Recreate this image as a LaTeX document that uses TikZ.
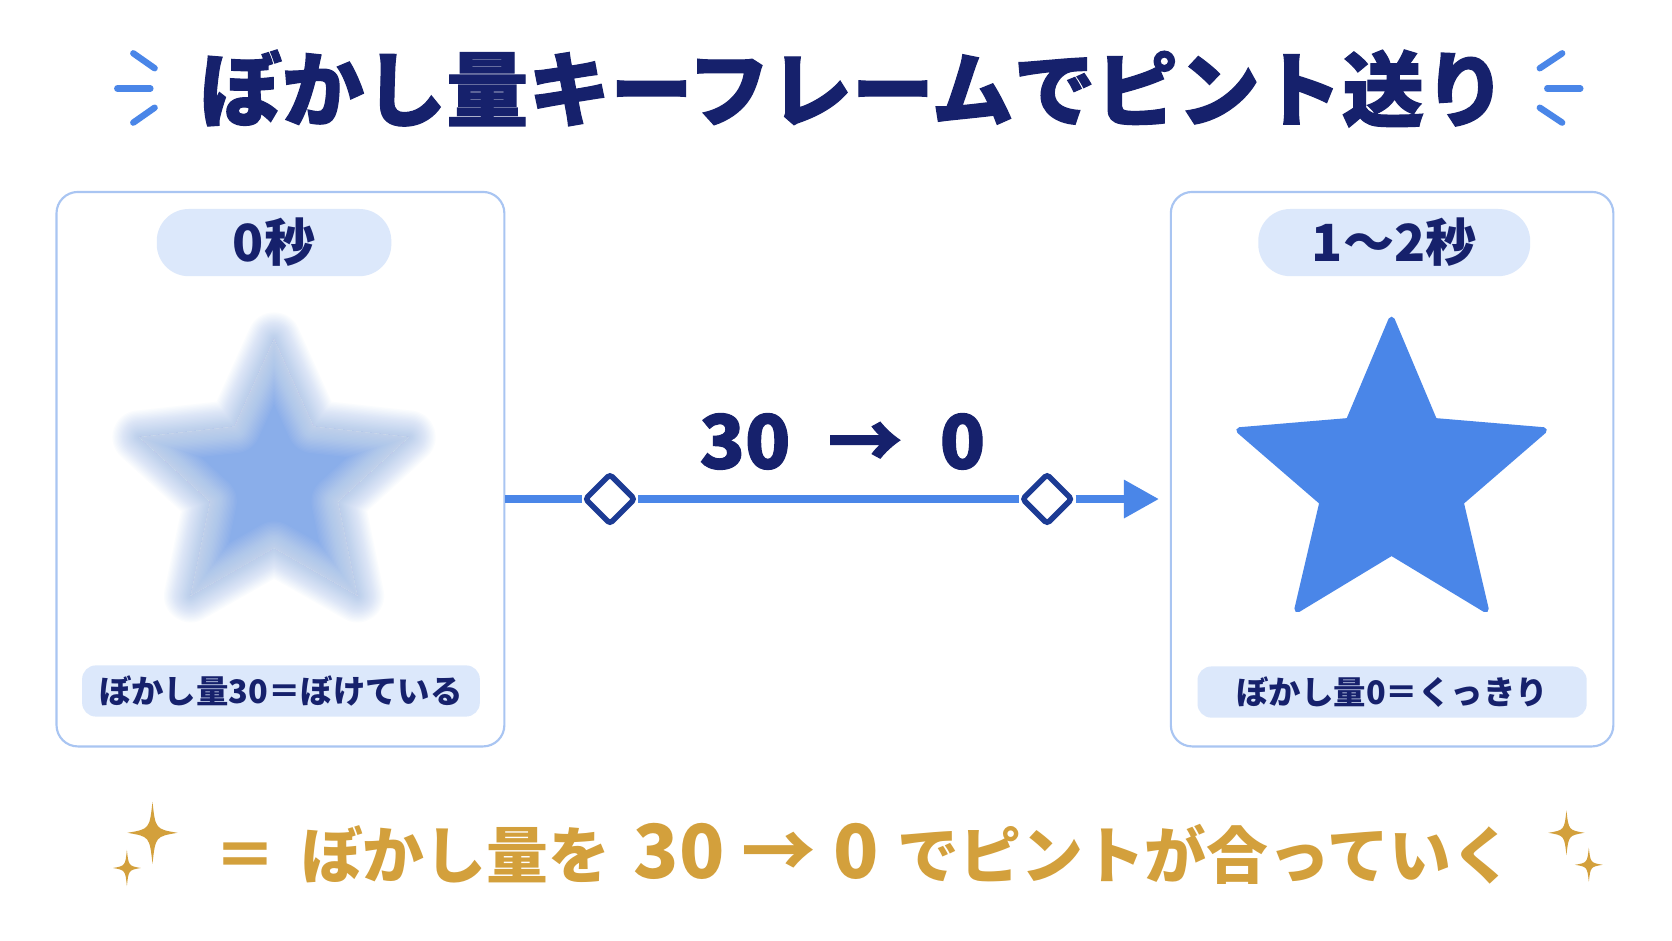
\documentclass[tikz,border=0pt]{standalone}
\usepackage{fontspec}
\setmainfont{Noto Sans CJK JP}
\newfontfamily\heavyfont{Noto Sans CJK JP}[BoldFeatures={FakeBold=1.5}]
\usepackage{tikz}
\usetikzlibrary{arrows.meta, shapes.geometric, positioning}

\definecolor{navy}{HTML}{16216C}
\definecolor{skyblue}{HTML}{4A86E8}
\definecolor{paleblue}{HTML}{8AAEEA}
\definecolor{frameblue}{HTML}{A9C5F2}
\definecolor{pillblue}{HTML}{DCE8FB}
\definecolor{keyblue}{HTML}{1C3B94}
\definecolor{gold}{HTML}{D3A03C}

\begin{document}
\begin{tikzpicture}[x=0.5pt, y=-0.5pt,
    panel/.style={draw=frameblue, line width=1pt, fill=white, rounded corners=10pt, minimum height=260pt, inner sep=0pt},
    timepill/.style={fill=pillblue, rounded corners=15pt, minimum height=31.5pt, text=navy, font=\bfseries\fontsize{24}{26}\selectfont, inner sep=0pt},
    notepill/.style={fill=pillblue, rounded corners=6.5pt, minimum height=24pt, text=navy, font=\bfseries\fontsize{15.2}{17}\selectfont, inner sep=0pt},
    keyframe/.style={diamond, draw=keyblue, line width=2.6pt, fill=white, minimum size=24pt, inner sep=0pt, rounded corners=1.5pt},
    flow/.style={skyblue, line width=4pt},
    burst/.style={skyblue, line width=3pt, line cap=round}]
    \useasboundingbox (0,0) rectangle (1568,882);
    \fill[white] (0,0) rectangle (1568,882);

    % Title
    \node[text=navy, font=\heavyfont\bfseries\fontsize{38.5}{40}\selectfont, inner sep=0pt] (title) at (800,83) {ぼかし量キーフレームでピント送り};
    \foreach \ax/\ay/\bx/\by in {125/50/145/64, 110/83/141/83, 125/115/145/101, 1465/50/1444/64, 1482/83/1451/83, 1465/115/1444/101}
        \draw[burst] (\ax,\ay) -- (\bx,\by);

    % Panels
    \node[panel, minimum width=210pt] (before) at (263,440) {};
    \node[panel, minimum width=207.5pt] (after) at (1305.5,440) {};
    \node[timepill, minimum width=110pt] (t0) at (257,227.5) {0秒};
    \node[timepill, minimum width=127.5pt] (t1) at (1307.5,227.5) {1〜2秒};

    % Blurred star
    \begin{scope}[shift={(257,451)}]
        \foreach \w in {1.25,2.5,...,25}
            \draw[paleblue, line width=\w pt, draw opacity=0.034, line join=round] (-90:133) \foreach \a in {0,72,...,216} {-- (-54+\a:63) -- (-18+\a:133)} -- (234:63) -- cycle;
        \fill[paleblue] (-90:133) \foreach \a in {0,72,...,216} {-- (-54+\a:63) -- (-18+\a:133)} -- (234:63) -- cycle;
        \clip[scale=1.005] (-90:133) \foreach \a in {0,72,...,216} {-- (-54+\a:63) -- (-18+\a:133)} -- (234:63) -- cycle;
        \foreach \w in {1.25,2.5,...,25}
            \draw[white, line width=\w pt, draw opacity=0.034, line join=round] (-90:133) \foreach \a in {0,72,...,216} {-- (-54+\a:63) -- (-18+\a:133)} -- (234:63) -- cycle;
    \end{scope}

    % Sharp star
    \begin{scope}[shift={(1305,450)}]
        \filldraw[skyblue, line width=3pt, line join=round] (-90:150) \foreach \a in {0,72,...,216} {-- (-54+\a:68) -- (-18+\a:150)} -- (234:68) -- cycle;
    \end{scope}

    \node[notepill, minimum width=186.5pt] (n0) at (263.5,648) {ぼかし量30＝ぼけている};
    \node[notepill, minimum width=182.5pt] (n1) at (1305.5,649) {ぼかし量0＝くっきり};

    % Keyframes
    \node[keyframe] (k0) at (572,468) {};
    \node[keyframe] (k1) at (982,468) {};
    \coordinate (tip) at ([xshift=-5pt]after.west |- k1);
    \draw[flow] (before.east |- k0) -- (k0);
    \draw[flow] (k0) -- (k1);
    \draw[flow, -{Triangle[length=16.5pt, width=17pt]}] (k1) -- (tip);
    \node[text=navy, font=\heavyfont\bfseries\fontsize{35}{38}\selectfont, inner sep=0pt] (amount) at (790,414) {30\enspace→\enspace0};

    % Summary
    \node[text=gold, font=\bfseries\fontsize{29}{34}\selectfont, inner sep=0pt, anchor=base] (summary) at (810,824) {＝\hspace{.4em}ぼかし量を\hspace{.38em}{\fontsize{35}{38}\selectfont 30 → 0}\hspace{.3em}でピントが合っていく};
    \foreach \x/\y/\w/\h in {143/781/23.5/29, 119/814/13/17, 1469/781/17/21, 1490/811/13/16}
        \fill[gold] (\x,\y-\h) .. controls (\x+0.12*\w,\y-0.12*\h) .. (\x+\w,\y)
            .. controls (\x+0.12*\w,\y+0.12*\h) .. (\x,\y+\h)
            .. controls (\x-0.12*\w,\y+0.12*\h) .. (\x-\w,\y)
            .. controls (\x-0.12*\w,\y-0.12*\h) .. (\x,\y-\h);
\end{tikzpicture}
\end{document}
